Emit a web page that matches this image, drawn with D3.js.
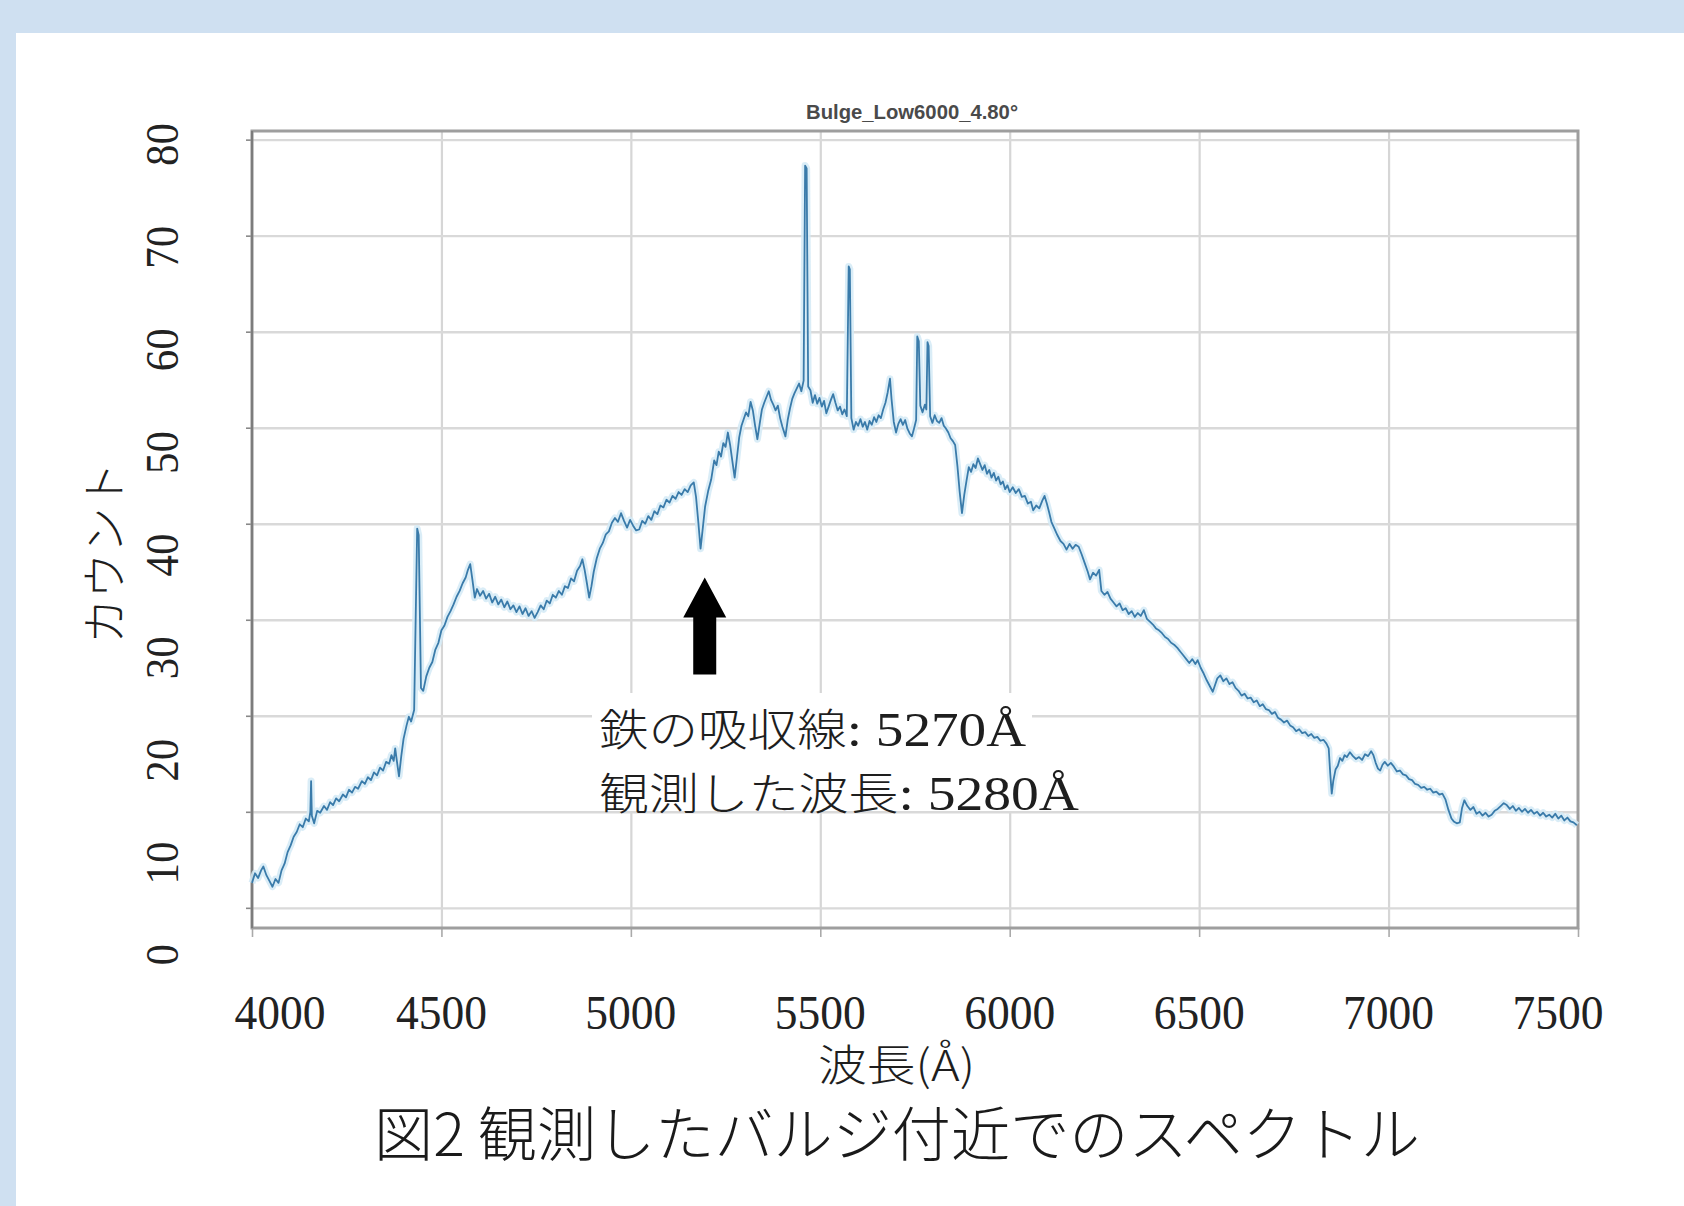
<!DOCTYPE html>
<html>
<head>
<meta charset="utf-8">
<script src="https://cdn.jsdelivr.net/npm/d3@7"></script>
<style>
  html, body { margin: 0; padding: 0; background: #cfe0f1; }
  svg { display: block; }
</style>
</head>
<body>
<svg id="chart" width="1684" height="1206"></svg>
<script>
// ---- data -------------------------------------------------------------
const xTicks = [4000, 4500, 5000, 5500, 6000, 6500, 7000, 7500];
const yTicks = [0, 10, 20, 30, 40, 50, 60, 70, 80];

const chartTitle = "Bulge_Low6000_4.80°";
const xTitle = "波長(Å)";
const yTitle = "カウント";
const caption = "図2 観測したバルジ付近でのスペクトル";
const noteLines = [["鉄の吸収線", ": 5270Å"], ["観測した波長", ": 5280Å"]];

// absorption dip the arrow points at: [wavelength, count at arrow tip]
const arrowTarget = [5195, 34.4];

// [wavelength (Å), count]
const spectrum = [
  [4000,2.6],[4008,3.6],[4016,3.1],[4024,3.9],[4030,4.3],[4038,3.4],[4046,2.8],[4054,2.2],
  [4062,3.0],[4070,2.6],[4078,3.9],[4086,4.6],[4094,5.8],[4102,6.5],[4110,7.4],[4118,7.9],
  [4126,8.7],[4134,8.4],[4142,9.3],[4150,9.0],[4154,10.0],[4156,13.2],[4158,9.6],[4164,8.8],
  [4172,10.1],[4180,9.9],[4190,10.6],[4198,10.2],[4206,11.0],[4214,10.7],[4222,11.4],[4230,11.1],
  [4240,11.8],[4248,11.5],[4256,12.3],[4264,12.0],[4272,12.6],[4280,12.4],[4290,13.2],[4298,12.9],
  [4306,13.6],[4314,13.3],[4322,14.1],[4330,13.8],[4338,14.6],[4346,14.3],[4354,15.2],[4362,15.0],
  [4368,15.9],[4374,15.3],[4378,16.6],[4382,15.4],[4388,13.7],[4394,15.8],[4400,17.6],[4408,19.0],
  [4414,19.9],[4420,19.4],[4428,20.6],[4436,39.5],[4440,38.8],[4446,22.9],[4452,22.6],[4460,24.1],
  [4468,25.0],[4476,25.6],[4484,26.9],[4492,27.6],[4500,28.9],[4508,29.4],[4516,30.3],[4524,30.9],
  [4532,31.6],[4540,32.4],[4548,33.0],[4556,33.8],[4564,34.4],[4570,35.2],[4576,35.8],[4582,34.1],
  [4588,32.3],[4594,33.2],[4602,32.5],[4610,33.0],[4618,32.2],[4626,32.7],[4634,31.8],[4642,32.4],
  [4650,31.6],[4658,32.1],[4666,31.3],[4674,31.9],[4682,31.1],[4690,31.5],[4698,30.8],[4706,31.4],
  [4714,30.6],[4722,31.2],[4730,30.4],[4738,30.9],[4746,30.2],[4754,30.8],[4762,31.5],[4770,31.1],
  [4778,32.0],[4786,31.7],[4794,32.6],[4802,32.3],[4810,33.0],[4818,32.6],[4826,33.5],[4834,33.3],
  [4842,34.3],[4850,34.0],[4858,35.1],[4866,35.6],[4872,36.3],[4878,35.2],[4884,33.8],[4890,32.3],
  [4896,33.5],[4902,35.0],[4910,36.4],[4918,37.4],[4926,38.0],[4934,38.9],[4942,39.2],[4950,40.1],
  [4958,40.6],[4966,40.2],[4974,41.1],[4982,40.3],[4990,39.6],[4998,40.4],[5006,39.8],[5014,39.3],
  [5022,39.4],[5030,40.3],[5038,40.0],[5046,40.8],[5054,40.4],[5062,41.3],[5070,41.0],[5078,41.9],
  [5086,41.7],[5094,42.5],[5102,42.2],[5110,42.9],[5118,42.6],[5126,43.3],[5134,43.0],[5142,43.6],
  [5150,43.3],[5158,44.0],[5166,44.3],[5172,42.8],[5178,40.2],[5184,37.4],[5190,39.6],[5196,41.8],
  [5204,43.4],[5212,44.6],[5220,46.6],[5226,46.1],[5232,47.5],[5238,47.0],[5244,48.4],[5250,48.0],
  [5256,49.5],[5262,48.2],[5268,46.5],[5274,44.8],[5280,46.9],[5286,49.0],[5292,50.2],[5298,50.9],
  [5304,51.6],[5310,51.2],[5316,52.7],[5322,51.8],[5328,50.2],[5334,48.8],[5340,50.4],[5346,51.9],
  [5352,52.6],[5358,53.2],[5364,53.8],[5370,52.9],[5376,52.4],[5382,51.8],[5388,52.3],[5394,51.0],
  [5400,50.1],[5408,49.1],[5414,50.8],[5420,52.0],[5426,53.0],[5432,53.6],[5438,54.1],[5444,54.6],
  [5450,53.8],[5456,54.9],[5460,77.3],[5464,77.0],[5468,54.3],[5474,53.9],[5480,52.6],[5486,53.4],
  [5492,52.5],[5498,53.1],[5504,52.2],[5510,52.8],[5516,51.5],[5522,52.2],[5528,52.9],[5534,53.5],
  [5540,52.6],[5546,51.8],[5552,52.2],[5558,51.4],[5564,51.9],[5570,51.2],[5575,66.8],[5578,66.5],
  [5582,51.0],[5588,49.8],[5594,50.6],[5600,50.2],[5606,50.9],[5612,50.1],[5618,50.6],[5624,49.8],
  [5630,50.7],[5636,50.3],[5642,51.1],[5648,50.6],[5654,51.3],[5660,51.0],[5666,51.9],[5672,52.6],
  [5678,53.7],[5684,55.1],[5688,53.0],[5694,50.6],[5700,49.5],[5706,50.4],[5712,50.9],[5718,50.3],
  [5724,50.8],[5730,49.9],[5736,49.4],[5742,49.1],[5748,50.0],[5753,50.8],[5756,59.5],[5760,59.0],
  [5764,52.3],[5770,51.6],[5776,52.4],[5780,51.9],[5783,58.9],[5786,58.5],[5790,51.2],[5796,50.5],
  [5802,51.3],[5808,50.7],[5814,50.5],[5820,51.0],[5826,50.2],[5832,49.9],[5838,49.5],[5844,48.9],
  [5850,48.6],[5856,48.2],[5862,46.0],[5868,43.3],[5874,41.1],[5880,43.0],[5886,44.5],[5892,45.9],
  [5898,45.4],[5904,46.2],[5910,45.8],[5916,46.8],[5922,46.2],[5928,45.6],[5934,46.1],[5940,45.2],
  [5946,45.6],[5952,44.8],[5958,45.3],[5964,44.5],[5970,44.9],[5976,44.1],[5982,44.4],[5988,43.6],
  [5994,44.0],[6000,43.3],[6008,43.8],[6016,43.2],[6024,43.6],[6032,42.8],[6040,42.9],[6048,42.1],
  [6056,42.3],[6062,41.4],[6070,41.9],[6078,41.6],[6086,42.4],[6092,42.9],[6098,42.1],[6104,41.2],
  [6110,40.2],[6118,39.5],[6126,38.8],[6134,38.2],[6142,37.9],[6150,37.3],[6158,37.9],[6166,37.4],
  [6174,37.8],[6182,37.6],[6190,36.8],[6198,35.9],[6206,35.0],[6212,34.2],[6220,34.9],[6228,34.6],
  [6236,35.2],[6242,33.0],[6250,32.6],[6258,32.9],[6266,32.2],[6274,31.8],[6282,31.4],[6290,31.7],
  [6298,31.0],[6306,31.2],[6314,30.6],[6322,30.9],[6330,30.3],[6338,30.7],[6346,30.4],[6354,31.0],
  [6362,30.1],[6370,29.8],[6378,29.5],[6386,29.1],[6394,28.9],[6402,28.6],[6410,28.2],[6418,28.0],
  [6426,27.6],[6434,27.4],[6442,27.1],[6450,26.7],[6458,26.3],[6466,25.9],[6474,25.5],[6482,25.9],
  [6490,25.4],[6496,25.8],[6504,25.0],[6512,24.4],[6520,23.7],[6528,23.1],[6536,22.5],[6542,23.2],
  [6548,23.9],[6556,24.2],[6564,23.6],[6572,23.9],[6580,23.3],[6588,23.5],[6596,22.9],[6604,22.6],
  [6612,22.1],[6620,22.3],[6628,21.8],[6636,21.9],[6644,21.4],[6652,21.6],[6660,21.0],[6668,21.2],
  [6676,20.7],[6684,20.6],[6692,20.2],[6700,20.4],[6708,19.8],[6716,19.6],[6724,19.3],[6732,19.5],
  [6740,19.0],[6748,18.8],[6756,18.4],[6764,18.6],[6772,18.2],[6780,18.3],[6788,17.9],[6796,18.1],
  [6804,17.7],[6812,17.8],[6820,17.4],[6828,17.5],[6836,17.1],[6842,16.6],[6846,14.0],[6850,11.9],
  [6854,13.2],[6860,14.4],[6866,14.8],[6872,15.6],[6878,15.3],[6884,15.9],[6890,15.7],[6898,16.2],
  [6906,15.8],[6914,15.5],[6922,15.7],[6930,15.4],[6938,16.0],[6946,15.8],[6954,16.3],[6960,15.9],
  [6966,15.1],[6972,14.5],[6978,14.3],[6984,14.9],[6990,15.2],[6998,14.8],[7006,15.1],[7014,14.7],
  [7022,14.2],[7030,14.3],[7038,13.9],[7046,13.8],[7054,13.4],[7062,13.3],[7070,12.9],[7078,12.8],
  [7086,12.5],[7094,12.6],[7102,12.3],[7110,12.4],[7118,12.0],[7126,12.1],[7134,11.8],[7142,11.9],
  [7150,11.3],[7158,10.2],[7166,9.3],[7172,9.0],[7180,8.8],[7188,8.9],[7194,10.4],[7200,11.2],
  [7208,10.6],[7216,10.2],[7224,10.5],[7232,9.8],[7240,10.0],[7248,9.6],[7256,9.9],[7264,9.5],
  [7272,9.7],[7280,10.1],[7288,10.3],[7296,10.6],[7304,10.9],[7312,10.7],[7320,10.3],[7328,10.6],
  [7336,10.1],[7344,10.4],[7352,10.0],[7360,10.3],[7368,9.9],[7376,10.2],[7384,9.8],[7392,10.0],
  [7400,9.6],[7408,9.9],[7416,9.5],[7424,9.7],[7432,9.4],[7440,9.8],[7448,9.3],[7456,9.6],
  [7464,9.1],[7472,9.4],[7480,9.0],[7488,8.9],[7497,8.6]
];

// ---- layout -----------------------------------------------------------
const W = 1684, H = 1206;
const plot = { left: 252, right: 1578, top: 131, bottom: 928 };
const serif = "'Liberation Serif', 'Times New Roman', serif";
const gothic = "'Noto Sans CJK JP', 'Noto Sans', sans-serif";

const svg = d3.select("#chart");

const x = d3.scaleLinear().domain([4000, 7500]).range([plot.left, plot.right]);
const y = d3.scaleLinear().domain([-2.1, 80.9]).range([plot.bottom, plot.top]);
// rotated y tick labels sit on their own, slightly wider spacing
const yLabel = d3.scaleLinear().domain([0, 80]).range([944, 123]);

// page background and white sheet
svg.append("rect").attr("width", W).attr("height", H).attr("fill", "#cfe0f1");
svg.append("rect").attr("x", 16).attr("y", 33).attr("width", W - 16).attr("height", H - 33).attr("fill", "#ffffff");

// ---- grid -------------------------------------------------------------
const gridX = svg.append("g")
  .attr("transform", `translate(0,${plot.bottom})`)
  .call(d3.axisBottom(x).tickValues(xTicks.slice(1, -1))
    .tickSize(-(plot.bottom - plot.top)).tickFormat(""));
gridX.select(".domain").remove();
gridX.selectAll("line").attr("stroke", "#d6d6d6").attr("stroke-width", 2.2);

const gridY = svg.append("g")
  .attr("transform", `translate(${plot.left},0)`)
  .call(d3.axisLeft(y).tickValues(yTicks)
    .tickSize(-(plot.right - plot.left)).tickFormat(""));
gridY.select(".domain").remove();
gridY.selectAll("line").attr("stroke", "#d9d9d9").attr("stroke-width", 2.4);

// small outside tick marks
const tickL = svg.append("g")
  .attr("transform", `translate(${plot.left},0)`)
  .call(d3.axisLeft(y).tickValues(yTicks).tickSize(6).tickFormat(""));
tickL.select(".domain").remove();
tickL.selectAll("line").attr("stroke", "#888").attr("stroke-width", 1.6);

const tickB = svg.append("g")
  .attr("transform", `translate(0,${plot.bottom})`)
  .call(d3.axisBottom(x).tickValues(xTicks).tickSize(9).tickFormat(""));
tickB.select(".domain").remove();
tickB.selectAll("line").attr("stroke", "#aaa").attr("stroke-width", 1.6);

// frame
svg.append("rect")
  .attr("x", plot.left).attr("y", plot.top)
  .attr("width", plot.right - plot.left).attr("height", plot.bottom - plot.top)
  .attr("fill", "none").attr("stroke", "#9e9e9e").attr("stroke-width", 3);
svg.append("line")
  .attr("x1", plot.left).attr("x2", plot.left)
  .attr("y1", plot.top).attr("y2", plot.bottom)
  .attr("stroke", "#7c7c7c").attr("stroke-width", 2.2);

// ---- spectrum ---------------------------------------------------------
const line = d3.line().x(d => x(d[0])).y(d => y(d[1]));
svg.append("path").datum(spectrum)
  .attr("d", line).attr("fill", "none")
  .attr("stroke", "#d3eaf6").attr("stroke-width", 7)
  .attr("stroke-linejoin", "round").attr("opacity", 0.85);
svg.append("path").datum(spectrum)
  .attr("d", line).attr("fill", "none")
  .attr("stroke", "#3a7baa").attr("stroke-width", 1.8)
  .attr("stroke-linejoin", "round");

// ---- chart title ------------------------------------------------------
svg.append("text")
  .attr("x", 912).attr("y", 119)
  .attr("text-anchor", "middle")
  .attr("font-family", "'Liberation Sans Narrow', 'Liberation Sans', Arial, sans-serif")
  .attr("font-size", 21).attr("font-weight", "bold").attr("fill", "#4a4a4a")
  .attr("textLength", 212).attr("lengthAdjust", "spacingAndGlyphs")
  .text(chartTitle);

// ---- tick labels ------------------------------------------------------
svg.append("g").selectAll("text").data(xTicks).join("text")
  .attr("x", d => Math.min(Math.max(x(d), plot.left + 28), plot.right - 20))
  .attr("y", 1029)
  .attr("text-anchor", "middle")
  .attr("font-family", serif).attr("font-size", 48).attr("fill", "#222")
  .attr("textLength", 91).attr("lengthAdjust", "spacingAndGlyphs")
  .text(d => d);

svg.append("g").selectAll("text").data(yTicks).join("text")
  .attr("transform", d => `translate(178,${yLabel(d)}) rotate(-90)`)
  .attr("text-anchor", "end")
  .attr("font-family", serif).attr("font-size", 46).attr("fill", "#222")
  .attr("textLength", d => String(d).length * 21.5).attr("lengthAdjust", "spacingAndGlyphs")
  .text(d => d);

// ---- axis titles and caption -----------------------------------------
svg.append("text")
  .attr("transform", "translate(121,553) rotate(-90)")
  .attr("text-anchor", "middle")
  .attr("font-family", gothic).attr("font-size", 46).attr("font-weight", 300)
  .attr("fill", "#1e1e1e")
  .attr("textLength", 182).attr("lengthAdjust", "spacingAndGlyphs")
  .text(yTitle);

svg.append("text")
  .attr("x", 818).attr("y", 1081)
  .attr("font-family", gothic).attr("font-size", 43).attr("font-weight", 300)
  .attr("fill", "#1e1e1e")
  .attr("textLength", 157).attr("lengthAdjust", "spacingAndGlyphs")
  .text(xTitle);

svg.append("text")
  .attr("x", 374).attr("y", 1156)
  .attr("font-family", gothic).attr("font-size", 59).attr("font-weight", 300)
  .attr("fill", "#1a1a1a")
  .attr("textLength", 1046).attr("lengthAdjust", "spacingAndGlyphs")
  .text(caption);

// ---- annotation: arrow and note --------------------------------------
// white note boxes hide the grid behind the two text lines
svg.append("rect").attr("x", 592).attr("y", 693).attr("width", 440).attr("height", 60).attr("fill", "#ffffff");
svg.append("rect").attr("x", 592).attr("y", 753).attr("width", 490).attr("height", 58).attr("fill", "#ffffff");

const tipX = x(arrowTarget[0]), tipY = y(arrowTarget[1]);
const arrowShape = [[0,0],[21.5,40],[11.5,40],[11.5,97],[-11.5,97],[-11.5,40],[-21.5,40]];
svg.append("path")
  .attr("d", "M" + arrowShape.map(p => [tipX + p[0], tipY + p[1]].join(",")).join("L") + "Z")
  .attr("fill", "#000");

const noteBaselines = [746, 810];
const noteWidths = [427, 480];
noteLines.forEach((parts, i) => {
  const t = svg.append("text")
    .attr("x", 599).attr("y", noteBaselines[i])
    .attr("fill", "#1e1e1e")
    .attr("textLength", noteWidths[i]).attr("lengthAdjust", "spacingAndGlyphs");
  t.append("tspan").attr("font-family", gothic).attr("font-size", 44).attr("font-weight", 300).text(parts[0]);
  t.append("tspan").attr("font-family", serif).attr("font-size", 49).text(parts[1]);
});
</script>
</body>
</html>
